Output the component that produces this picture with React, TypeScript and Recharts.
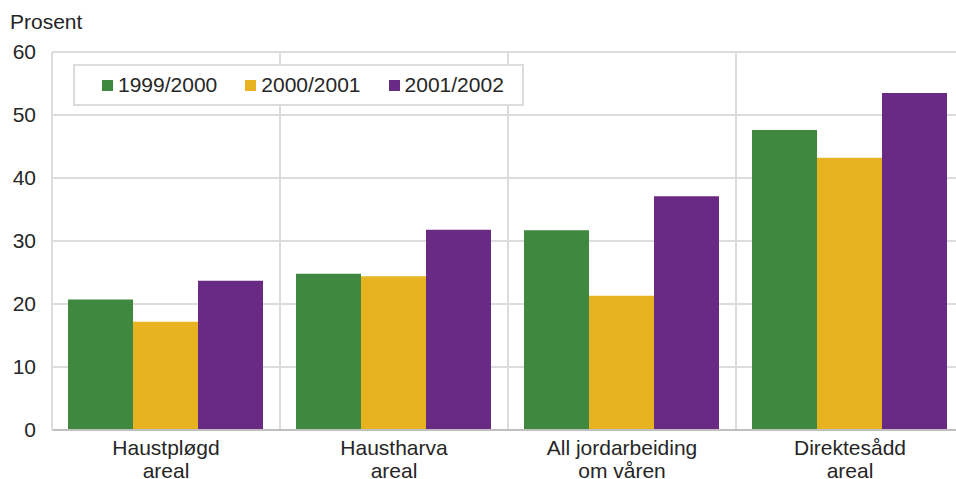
import React from 'react';
import {
  BarChart,
  Bar,
  XAxis,
  YAxis,
  CartesianGrid,
} from 'recharts';

// Kategoriar (to linjer per etikett)
const categories = [
  'Haustpløgd\nareal',
  'Haustharva\nareal',
  'All jordarbeiding\nom våren',
  'Direktesådd\nareal',
];

const series1999 = [20.7, 24.8, 31.7, 47.6];
const series2000 = [17.2, 24.4, 21.3, 43.2];
const series2001 = [23.7, 31.8, 37.1, 53.5];

const seriesNames = ['1999/2000', '2000/2001', '2001/2002'];
const seriesColors = ['#3f883f', '#e8b321', '#682a82'];
const yTicks = [0, 10, 20, 30, 40, 50, 60];

const data = categories.map((name, i) => ({
  name,
  s1: series1999[i],
  s2: series2000[i],
  s3: series2001[i],
}));

const FONT = '"Liberation Sans", Arial, sans-serif';
const TEXT = '#262626';

function CategoryTick(props: any) {
  const { x, y, payload } = props;
  const lines = String(payload.value).split('\n');
  return (
    <g>
      {lines.map((line, i) => (
        <text
          key={i}
          x={x}
          y={y + 23 + i * 23}
          textAnchor="middle"
          fill={TEXT}
          fontSize={21}
          fontFamily={FONT}
        >
          {line}
        </text>
      ))}
    </g>
  );
}

// legenda ligg over plottet, med kvit bakgrunn
function LegendBox() {
  return (
    <div
      style={{
        position: 'absolute',
        left: 73,
        top: 64,
        display: 'flex',
        alignItems: 'center',
        width: 447,
        height: 38,
        border: '2px solid #dcdcdc',
        background: '#fff',
        fontFamily: FONT,
        fontSize: 21,
        color: TEXT,
        zIndex: 2,
      }}
    >
      {seriesNames.map((n, i) => (
        <div
          key={n}
          style={{
            display: 'flex',
            alignItems: 'center',
            marginLeft: i === 0 ? 27 : 28,
          }}
        >
          <span
            style={{
              display: 'inline-block',
              width: 11,
              height: 11,
              background: seriesColors[i],
              marginRight: 5,
            }}
          />
          <span>{n}</span>
        </div>
      ))}
    </div>
  );
}

export default function App(): JSX.Element {
  return (
    <div
      style={{
        position: 'absolute',
        left: 0,
        top: 0,
        width: 956,
        height: 479,
        overflow: 'hidden',
        background: '#fff',
      }}
    >
      <div
        style={{
          position: 'absolute',
          left: 10,
          top: 10,
          fontFamily: FONT,
          fontSize: 21,
          color: TEXT,
          lineHeight: '24px',
        }}
      >
        Prosent
      </div>
      <BarChart
        width={964}
        height={479}
        data={data}
        margin={{ top: 52, right: 0, left: 0, bottom: 0 }}
        barCategoryGap={16}
        barGap={0}
      >
        <CartesianGrid
          stroke="#dcdcdc"
          strokeWidth={2}
          verticalCoordinatesGenerator={({ offset }: any) =>
            categories
              .map((_, i) => offset.left + (i * offset.width) / categories.length)
              .concat([offset.left + offset.width])
          }
        />
        <XAxis
          dataKey="name"
          height={49}
          tickLine={false}
          tickSize={0}
          interval={0}
          axisLine={{ stroke: '#bfbfbf', strokeWidth: 2 }}
          tick={<CategoryTick />}
        />
        <YAxis
          width={52}
          domain={[0, 60]}
          ticks={yTicks}
          tickLine={false}
          tickSize={0}
          tickMargin={16}
          axisLine={{ stroke: '#dcdcdc', strokeWidth: 2 }}
          tick={{ fill: TEXT, fontSize: 21, fontFamily: FONT }}
        />
        <Bar dataKey="s1" name={seriesNames[0]} fill={seriesColors[0]} isAnimationActive={false} />
        <Bar dataKey="s2" name={seriesNames[1]} fill={seriesColors[1]} isAnimationActive={false} />
        <Bar dataKey="s3" name={seriesNames[2]} fill={seriesColors[2]} isAnimationActive={false} />
      </BarChart>
      <LegendBox />
    </div>
  );
}
